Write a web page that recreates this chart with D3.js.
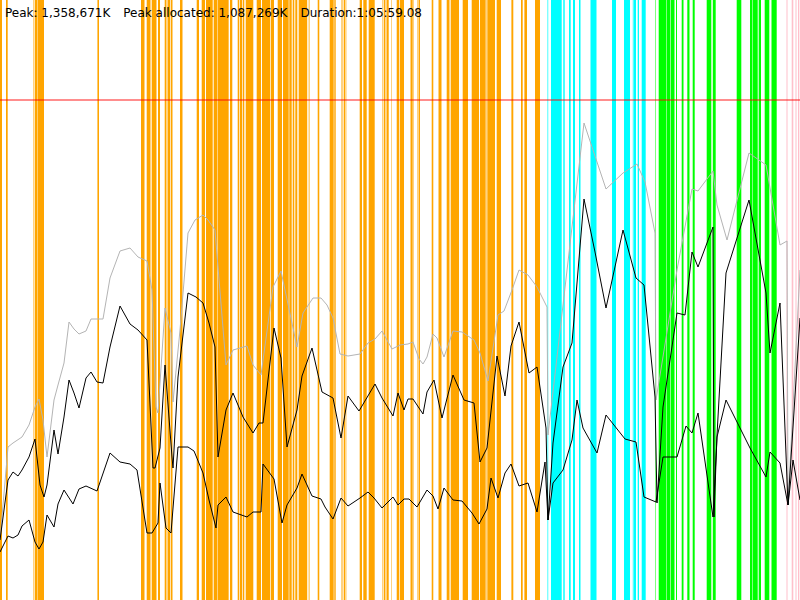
<!DOCTYPE html>
<html>
<head>
<meta charset="utf-8">
<script src="https://cdn.jsdelivr.net/npm/d3@7"></script>
<style>
  html, body { margin: 0; padding: 0; background: #fff; }
  svg { display: block; }
</style>
</head>
<body>
<div id="chart"></div>
<script>
// Elapsed time in seconds, heap sizes in MB
var durationSec = 4000;
var heapMaxMB = 1800;
var maxHeapLimitMB = 1500;

var headerLabels = ["Peak: 1,358,671K", "Peak allocated: 1,087,269K", "Duration:1:05:59.08"];

// GC pauses as [start, end] seconds
var youngPauses = [
  [0,10],[30,38.5],[167.5,170],[173.5,185],[186,188],[188.5,220],[486,488],[488.5,495],
  [705,722.5],[733.5,752.5],[758.5,780],[782.5,785],[790,800],[823.5,832.5],[835,837.5],
  [840,850],[853.5,862.5],[900,910],[912.5,915],[983.5,995],
  [1008.5,1025],[1030,1063.5],[1068.5,1086.5],[1088.5,1141.5],[1142.5,1145],[1150,1161.5],
  [1188.5,1196.5],[1200,1210],[1213.5,1221.5],[1228.5,1266.5],[1283.5,1305],[1310,1350],
  [1353.5,1370],[1388.5,1410],[1415,1443.5],[1446.5,1458.5],[1463.5,1471.5],[1476.5,1486.5],
  [1493.5,1535],[1539,1541.5],[1545,1547.5],[1588.5,1596.5],[1648.5,1668.5],[1671.5,1678.5],
  [1707.5,1710],[1712.5,1715],[1718.5,1726.5],[1729,1731.5],[1798.5,1810],[1816.5,1833.5],
  [1843.5,1873.5],[1912.5,1915],[1918.5,1926.5],[1929,1931.5],[1933.5,1943.5],[1955,1957.5],
  [1983.5,1996.5],
  [2000,2020],[2050,2052.5],[2055,2063.5],[2066.5,2069],[2086.5,2089],[2092.5,2100],
  [2158.5,2166.5],[2190,2192.5],[2195,2207.5],[2233.5,2245],[2247.5,2250],[2253.5,2295],
  [2313.5,2340],[2358.5,2395],[2400,2428.5],[2431.5,2434],[2436.5,2475],[2483.5,2505],
  [2557,2566.5],[2605,2613.5],[2622,2635],[2675,2700]
];
var remarkPauses = [
  [2737.5,2741],[2755,2808.5],[2816.5,2823.5],[2845,2853.5],[2865,2875],[2895,2902.5],
  [2952.5,2982.5],[3060,3080],[3120,3150],[3164,3166.5],[3167.5,3180],[3188.5,3195],[3208.5,3228.5]
];
var mixedPauses = [
  [3275,3277.5],[3293.5,3330],[3332.5,3351.5],[3354,3372.5],[3380,3385],[3408.5,3417.5],
  [3436.5,3447.5],[3463.5,3473.5],[3533.5,3555],[3558.5,3561],[3565,3578.5],[3683.5,3706.5],
  [3750,3760],[3762.5,3788.5],[3793.5,3805],[3823.5,3846.5],[3857.5,3883.5]
];
var fullPauses = [
  [3932.5,3937.5],[3958.5,3966.5],[3977.5,3982.5],[3990,3996.5]
];

// Heap samples as [seconds, MB]
var committedHeap = [
  [0,180],[40,459],[65,471],[110,489],[145,525],[175,579],[195,603],[215,540],[235,429],
  [270,600],[290,645],[320,711],[345,834],[370,813],[395,798],[430,807],[455,843],[515,843],
  [550,966],[600,1047],[650,1056],[690,1029],[735,1017],[760,930],[780,579],[790,561],
  [825,876],[855,801],[865,594],[900,810],[940,1101],[975,1140],[1015,1155],[1040,1140],
  [1075,1110],[1130,705],[1165,750],[1235,762],[1265,705],[1305,675],[1365,939],[1405,987],
  [1485,759],[1515,861],[1565,906],[1605,906],[1635,885],[1665,846],[1700,738],[1740,732],
  [1800,738],[1840,771],[1875,783],[1910,807],[1960,753],[2000,765],[2040,768],[2065,774],
  [2095,723],[2115,708],[2135,729],[2165,798],[2185,786],[2220,729],[2265,807],[2310,804],
  [2370,780],[2400,741],[2440,657],[2490,855],[2520,867],[2560,930],[2595,990],[2640,975],
  [2685,939],[2735,879],[2740,495],[2920,1431],[3030,1233],[3115,1281],[3185,1308],
  [3225,1254],[3275,1101],[3280,600],[3385,990],[3460,1233],[3490,1227],[3565,1287],
  [3585,1185],[3635,1080],[3745,1341],[3830,1305],[3900,1065],[3935,1077],[3940,285],[4000,990]
];
var usedHeap = [
  [0,180],[40,360],[65,384],[90,372],[110,390],[145,429],[175,483],[200,345],[220,309],
  [235,345],[270,510],[290,438],[320,549],[345,660],[370,621],[395,576],[430,666],[455,684],
  [485,654],[515,651],[550,759],[600,882],[650,828],[690,810],[735,780],[765,396],[775,396],
  [800,456],[825,705],[860,429],[865,396],[890,669],[940,921],[980,909],[1015,891],[1045,831],
  [1075,759],[1090,429],[1130,570],[1165,621],[1215,549],[1265,501],[1295,531],[1315,531],
  [1370,816],[1405,726],[1435,459],[1485,570],[1510,672],[1560,756],[1610,624],[1665,606],
  [1705,486],[1740,612],[1795,567],[1875,648],[1910,606],[1965,552],[1990,621],[2020,570],
  [2040,603],[2065,603],[2115,558],[2135,624],[2170,660],[2210,546],[2265,675],[2320,600],
  [2370,591],[2400,414],[2435,456],[2485,732],[2525,612],[2555,762],[2595,834],[2645,681],
  [2685,699],[2730,516],[2740,240],[2765,471],[2815,699],[2860,771],[2920,1203],[2975,1044],
  [3030,876],[3115,1110],[3180,966],[3220,945],[3275,609],[3285,291],[3315,579],[3385,861],
  [3425,855],[3460,1044],[3490,999],[3565,1119],[3570,249],[3585,495],[3630,981],[3745,1200],
  [3830,921],[3850,741],[3900,891],[3940,285],[4000,846]
];
var liveHeap = [
  [0,144],[40,192],[65,186],[90,195],[110,222],[145,240],[175,174],[195,153],[215,174],
  [235,255],[270,219],[290,288],[320,330],[365,288],[395,333],[430,342],[485,327],[550,441],
  [600,414],[650,408],[685,390],[735,201],[760,201],[790,231],[800,351],[830,216],[855,201],
  [890,459],[940,459],[970,447],[1015,381],[1045,300],[1080,216],[1090,285],[1130,309],
  [1165,264],[1235,249],[1265,264],[1305,264],[1315,408],[1370,363],[1410,231],[1435,285],
  [1485,336],[1510,378],[1560,312],[1605,303],[1625,279],[1665,243],[1705,306],[1740,282],
  [1800,306],[1840,324],[1870,306],[1910,276],[1965,309],[1990,285],[2020,303],[2045,303],
  [2085,279],[2135,330],[2165,312],[2190,273],[2220,336],[2265,300],[2310,297],[2360,261],
  [2395,228],[2435,273],[2455,366],[2490,306],[2525,381],[2555,408],[2595,342],[2640,351],
  [2685,264],[2725,414],[2740,240],[2765,351],[2815,390],[2860,480],[2885,600],[2915,516],
  [2985,441],[3030,555],[3125,483],[3180,474],[3220,309],[3280,294],[3315,429],[3385,429],
  [3430,522],[3460,501],[3490,561],[3565,249],[3585,489],[3630,600],[3750,456],[3830,369],
  [3850,444],[3900,411],[3940,285],[3965,420],[4000,300]
];

var width = 800, height = 600;

var x = d3.scaleLinear().domain([0, durationSec]).range([0, width]);
var y = d3.scaleLinear().domain([0, heapMaxMB]).range([height, 0]);

var svg = d3.select("#chart")
    .append("svg")
    .attr("width", width)
    .attr("height", height);

//Pause stripes, one layer per collector phase
var pauseLayers = [
    {data: youngPauses, color: "#ffa500"},
    {data: remarkPauses, color: "#00ffff"},
    {data: mixedPauses, color: "#00ff00"},
    {data: fullPauses, color: "#ffc0cb"}
];

pauseLayers.forEach(function (layer) {
    svg.append("g")
        .selectAll("rect")
        .data(layer.data)
        .enter()
        .append("rect")
        .attr("x", function (d) { return x(d[0]); })
        .attr("width", function (d) { return x(d[1]) - x(d[0]); })
        .attr("y", 0)
        .attr("height", height)
        .attr("fill", layer.color);
});

//Max heap limit
svg.append("line")
    .attr("x1", 0)
    .attr("x2", width)
    .attr("y1", y(maxHeapLimitMB))
    .attr("y2", y(maxHeapLimitMB))
    .attr("stroke", "#ff0000")
    .attr("stroke-opacity", 0.6)
    .attr("stroke-width", 1.5);

var line = d3.line()
    .x(function (d) { return x(d[0]); })
    .y(function (d) { return y(d[1]); });

svg.append("path")
    .datum(committedHeap)
    .attr("d", line)
    .attr("fill", "none")
    .attr("stroke", "#b4b4b4")
    .attr("stroke-width", 1);

svg.append("path")
    .datum(usedHeap)
    .attr("d", line)
    .attr("fill", "none")
    .attr("stroke", "#000")
    .attr("stroke-width", 1);

svg.append("path")
    .datum(liveHeap)
    .attr("d", line)
    .attr("fill", "none")
    .attr("stroke", "#000")
    .attr("stroke-width", 1);

//Header text, laid out one after another
var textX = 5;
headerLabels.forEach(function (label) {
    var t = svg.append("text")
        .attr("x", textX)
        .attr("y", 17)
        .attr("font-family", "'DejaVu Sans', sans-serif")
        .attr("font-size", "12px")
        .attr("fill", "#000")
        .text(label);
    textX += t.node().getComputedTextLength() + 13;
});
</script>
</body>
</html>
